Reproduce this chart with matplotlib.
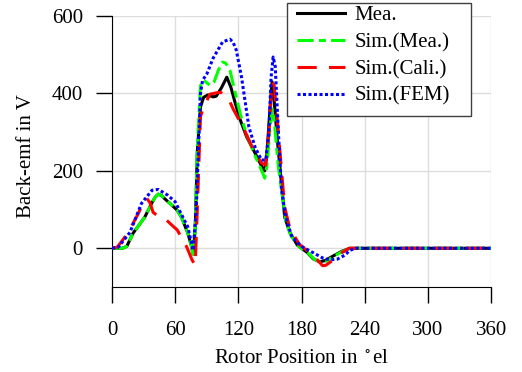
import matplotlib
matplotlib.use("Agg")
import matplotlib.pyplot as plt
from matplotlib.patches import Rectangle

plt.rcParams['font.family'] = ['Liberation Serif', 'DejaVu Serif']
plt.rcParams['mathtext.fontset'] = 'stix'

# Measured back-emf (black)
mea_x = [0, 10, 14, 20, 31, 38, 41, 44, 47, 50, 57, 62, 66, 72, 75, 77, 79, 81, 84, 87, 91, 96, 99,
         104, 109, 113, 117, 122, 128, 136, 143, 145, 147, 150, 152, 154, 157, 160, 164,
         169, 176, 185, 191, 197, 202, 210, 218, 226, 240, 360]
mea_y = [0, 0, 5, 39, 80, 118, 132, 140, 136, 128, 111, 98, 80, 39, 10, -15, 50, 250, 365, 390, 396, 391, 393,
         415, 442, 415, 375, 330, 287, 245, 207, 200, 240, 360, 430, 380, 280, 193, 80,
         40, 8, -10, -27, -35, -32, -20, -8, 0, 0, 0]

# Simulation with measured parameters (green)
simm_x = [0, 10, 14, 20, 31, 38, 41, 44, 47, 50, 57, 62, 66, 72, 75, 77, 79, 81, 84, 87, 93, 97, 101,
          105, 108, 112, 118, 122, 128, 136, 143, 145, 147, 150, 152, 154, 158, 161, 165,
          170, 177, 186, 192, 198, 203, 211, 219, 226, 240, 360]
simm_y = [0, 0, 5, 39, 80, 118, 132, 140, 136, 128, 111, 98, 80, 39, 10, -15, 50, 260, 420, 434, 421, 430, 460,
          481, 478, 460, 390, 345, 292, 238, 195, 181, 210, 310, 360, 330, 210, 150, 70,
          32, 6, -12, -28, -36, -34, -20, -8, 0, 0, 0]

# Simulation with calibrated parameters (red)
simc_x = [0, 5, 15, 25, 30, 33, 36, 39, 45, 52, 62, 71, 76, 79, 81, 84, 87, 93, 98, 103,
          108, 112, 115, 120, 127, 133, 142, 146, 149, 152, 154, 158, 161, 164, 169, 178, 187,
          195, 200, 203, 210, 219, 225, 240, 360]
simc_y = [0, 3, 39, 90, 120, 129, 118, 93, 80, 72, 47, 3, -30, -44, 100, 340, 365, 398, 401, 403,
          392, 378, 360, 335, 298, 261, 220, 215, 300, 430, 420, 300, 200, 106, 50, 10, -10,
          -30, -45, -44, -30, -10, 0, 0, 0]

# FEM simulation (blue)
fem_x = [0, 6, 17, 28, 38, 44, 53, 60, 64, 72, 77, 80, 84, 86, 90, 96, 105, 112, 115, 118, 123,
         130, 136, 142, 146, 149, 151, 153, 155, 158, 161, 165, 171, 180, 190, 200, 207,
         214, 221, 226, 232, 360]
fem_y = [0, 3, 41, 116, 150, 152, 137, 120, 98, 55, -5, 100, 400, 434, 450, 491, 533, 540, 532, 512, 442,
         313, 260, 228, 228, 300, 440, 494, 470, 300, 150, 80, 28, 5, -10, -25, -30,
         -28, -18, -5, 0, 0]

x_ticks = [0, 60, 120, 180, 240, 300, 360]
y_ticks = [0, 200, 400, 600]

fig = plt.figure(figsize=(5.22, 3.72), dpi=100)
ax = fig.add_axes([0.2146, 0.2285, 0.7262, 0.7285])

lw = 2.2
ax.plot(mea_x, mea_y, color='black', lw=lw, label='Mea.', zorder=3)
ax.plot(simm_x, simm_y, color='#00ff00', lw=lw, dashes=(5.3, 1.7, 2.3, 1.7), label='Sim.(Mea.)', zorder=4)
ax.plot(simc_x, simc_y, color='red', lw=lw, dashes=(6.3, 4), label='Sim.(Cali.)', zorder=5)
ax.plot(fem_x, fem_y, color='blue', lw=lw, dashes=(1, 0.8), dash_capstyle='butt', label='Sim.(FEM)', zorder=6)

ax.set_xlim(0, 360)
ax.set_ylim(-100, 600)
ax.set_xticks(x_ticks)
ax.set_yticks(y_ticks)
ax.grid(True, color='#dddddd', lw=1)
ax.set_axisbelow(True)
for s in ['top', 'right']:
    ax.spines[s].set_visible(False)
ax.tick_params(direction='out', length=11.5, width=1, labelsize=15)
ax.tick_params(axis='x', pad=13)
ax.tick_params(axis='y', pad=9.5)

ax.set_xlabel(r'Rotor Position in $^\circ$el', fontsize=15)
ax.set_ylabel('Back-emf in V', fontsize=15)
ax.xaxis.set_label_coords(0.5, -0.227)
ax.yaxis.set_label_coords(-0.2, 0.483)

# legend frame drawn separately (wider right padding like the original)
frame = Rectangle((0.5498, 0.6882), 0.3525, 0.3038, transform=fig.transFigure,
                  facecolor='white', edgecolor='#404040', lw=1, zorder=10, clip_on=False)
ax.add_patch(frame)

leg = ax.legend(loc='upper left', bbox_to_anchor=(0.488, 1.038), fontsize=15,
                frameon=False, handlelength=2.3, labelspacing=0.35, borderpad=0,
                handletextpad=0.45, borderaxespad=0)
leg.set_zorder(11)

fig.savefig('out.png', dpi=100)
